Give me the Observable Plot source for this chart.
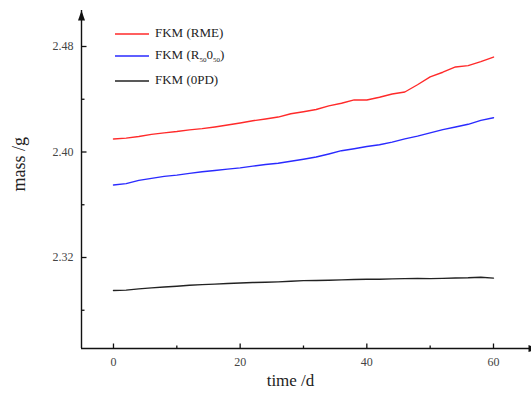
<!DOCTYPE html>
<html><head><meta charset="utf-8">
<script src="https://cdn.jsdelivr.net/npm/d3@7"></script>
<script src="https://cdn.jsdelivr.net/npm/@observablehq/plot@0.6"></script>
<style>
body{margin:0;background:#fff}
#wrap{position:relative;width:531px;height:401px;overflow:hidden}
.leg{position:absolute;left:115px;height:16px;line-height:16px;font:13px "Liberation Serif",serif;color:#222;white-space:nowrap}
.leg svg{vertical-align:middle;margin-right:6px}
.leg sub{font-size:7px;vertical-align:-3px}
</style>
</head><body><div id="wrap"></div>
<script>
const days = [0,2,4,6,8,10,12,14,16,18,20,22,24,26,28,30,32,34,36,38,40,42,44,46,48,50,52,54,56,58,60];
const rme  = [2.4099,2.4105,2.4118,2.4134,2.4145,2.4155,2.4168,2.4177,2.4190,2.4205,2.4220,2.4237,2.4250,2.4265,2.4290,2.4305,2.4322,2.4350,2.4370,2.4395,2.4394,2.4415,2.4440,2.4455,2.4510,2.4570,2.4605,2.4645,2.4655,2.4685,2.4720];
const r50  = [2.3750,2.3760,2.3785,2.3800,2.3815,2.3825,2.3838,2.3850,2.3860,2.3870,2.3880,2.3893,2.3905,2.3915,2.3930,2.3945,2.3962,2.3985,2.4010,2.4025,2.4042,2.4055,2.4075,2.4100,2.4120,2.4145,2.4170,2.4190,2.4210,2.4240,2.4260];
const opd  = [2.2950,2.2953,2.2962,2.2970,2.2976,2.2982,2.2990,2.2994,2.2998,2.3003,2.3007,2.3010,2.3012,2.3015,2.3020,2.3025,2.3026,2.3028,2.3030,2.3033,2.3035,2.3035,2.3038,2.3040,2.3042,2.3040,2.3042,2.3045,2.3046,2.3050,2.3044];
const seriesNames = ["FKM (RME)", "FKM (R50050)", "FKM (0PD)"];
const seriesColors = ["#ff2a2a", "#2a2aff", "#222222"];
const xMajor = [0, 20, 40, 60];
const xMinor = [10, 30, 50];
const yMajor = [2.32, 2.40, 2.48];
const yMinor = [2.28, 2.36, 2.44];
const xDomain = [-5.05, 66.0];
const yDomain = [2.251, 2.5073];

const rows = [];
[rme, r50, opd].forEach((vals, i) => vals.forEach((v, j) => rows.push({day: days[j], mass: v, s: seriesNames[i]})));

const seg = (dx, dy) => ({draw(ctx){ ctx.moveTo(0, 0); ctx.lineTo(dx, dy); }});
const triUp = {draw(ctx){ ctx.moveTo(0, 0); ctx.lineTo(-3.5, 10); ctx.lineTo(3.5, 10); ctx.closePath(); }};
const triRight = {draw(ctx){ ctx.moveTo(-3, -3.5); ctx.lineTo(7, 0); ctx.lineTo(-3, 3.5); ctx.closePath(); }};

const chart = Plot.plot({
  width: 531, height: 401,
  marginLeft: 81, marginRight: 0, marginTop: 10, marginBottom: 53,
  style: {fontFamily: '"Liberation Serif", serif', fontSize: "12px", background: "#fff"},
  x: {domain: xDomain},
  y: {domain: yDomain},
  color: {domain: seriesNames, range: seriesColors},
  marks: [
    Plot.line(rows, {x: "day", y: "mass", z: "s", stroke: "s", strokeWidth: 1.4}),
    Plot.ruleX([xDomain[0]], {stroke: "#111", strokeWidth: 1.4}),
    Plot.ruleY([yDomain[0]], {stroke: "#111", strokeWidth: 1.4}),
    Plot.dot(yMajor, {y: d => d, frameAnchor: "left", symbol: seg(5, 0), stroke: "#111", strokeWidth: 1.3, fill: "none"}),
    Plot.dot(yMinor, {y: d => d, frameAnchor: "left", symbol: seg(3, 0), stroke: "#111", strokeWidth: 1.3, fill: "none"}),
    Plot.dot(xMajor, {x: d => d, frameAnchor: "bottom", symbol: seg(0, -5), stroke: "#111", strokeWidth: 1.3, fill: "none"}),
    Plot.dot(xMinor, {x: d => d, frameAnchor: "bottom", symbol: seg(0, -3), stroke: "#111", strokeWidth: 1.3, fill: "none"}),
    Plot.dot([xDomain[0]], {x: d => d, frameAnchor: "top", symbol: triUp, fill: "#111", stroke: "none"}),
    Plot.dot([yDomain[0]], {y: d => d, frameAnchor: "right", symbol: triRight, fill: "#111", stroke: "none"}),
    Plot.axisY({ticks: yMajor, tickFormat: d3.format(".2f"), tickSize: 0, tickPadding: 8, color: "#444", label: null}),
    Plot.axisX({ticks: xMajor, tickFormat: d => d, tickSize: 0, tickPadding: 9, color: "#444", label: null}),
    Plot.text(["mass /g"], {frameAnchor: "left", dx: -62, dy: 12, rotate: -90, fontSize: 18, fill: "#222"}),
    Plot.text(["time /d"], {frameAnchor: "bottom", dx: -16, dy: 37, fontSize: 17, fill: "#222"})
  ]
});

const wrap = document.getElementById("wrap");
wrap.appendChild(chart);
const legY = [32.5, 54.5, 80];
const legHTML = ["FKM (RME)", "FKM (R<sub>50</sub>0<sub>50</sub>)", "FKM (0PD)"];
seriesNames.forEach((n, i) => {
  const d = document.createElement("div");
  d.className = "leg";
  d.style.top = (legY[i] - 8) + "px";
  d.innerHTML = `<svg width="34" height="4"><line x1="0" x2="34" y1="2" y2="2" stroke="${seriesColors[i]}" stroke-width="1.5"/></svg>${legHTML[i]}`;
  wrap.appendChild(d);
});
</script>
</body></html>
